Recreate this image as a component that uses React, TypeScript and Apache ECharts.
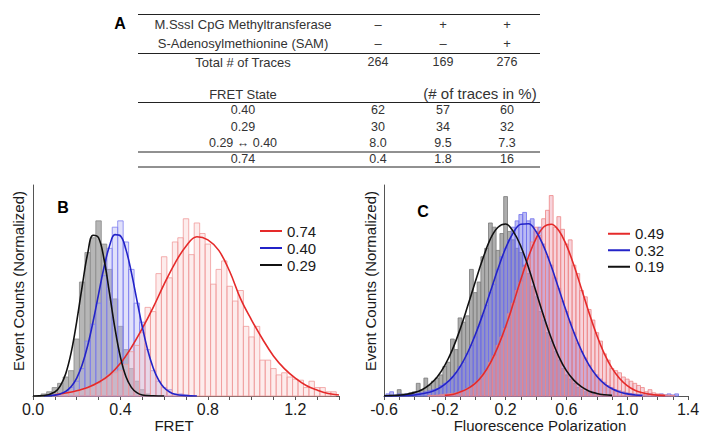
import React, { useEffect, useRef } from 'react';
import * as echarts from 'echarts';

// ---------- Table (panel A) ----------
const treatmentRows = ['M.SssI CpG Methyltransferase', 'S-Adenosylmethionine (SAM)'];
const treatmentMarks = [['–', '+', '+'], ['–', '–', '+']];
const totalTracesLabel = 'Total # of Traces';
const totalTraces = ['264', '169', '276'];
const fretStateHeader = 'FRET State';
const percentHeader = '(# of traces in %)';
const fretStates = ['0.40', '0.29', '0.29 ↔ 0.40', '0.74'];
const fretPercents = [['62', '57', '60'], ['30', '34', '32'], ['8.0', '9.5', '7.3'], ['0.4', '1.8', '16']];

// ---------- Panel B (FRET) ----------
const BIN_W = 0.025;
const histB029Start = 0.05;
const histB029 = [0.01, 0.02, 0.04, 0.06, 0.09, 0.12, 0.27, 0.54, 0.68, 0.75, 0.83, 0.72, 0.6, 0.46, 0.33, 0.22, 0.13, 0.07, 0.03, 0.01];
const histB040Start = 0.1;
const histB040 = [0.005, 0.01, 0.02, 0.04, 0.07, 0.13, 0.26, 0.34, 0.44, 0.57, 0.7, 0.8, 0.83, 0.73, 0.6, 0.44, 0.35, 0.22, 0.12, 0.07, 0.04, 0.03, 0.01, 0.01, 0.005];
const histB074Start = 0.1;
const histB074 = [0.005, 0.01, 0.015, 0.02, 0.025, 0.03, 0.04, 0.05, 0.06, 0.08, 0.1, 0.11, 0.12, 0.15, 0.21, 0.24, 0.3, 0.42, 0.4, 0.58, 0.66, 0.56, 0.73, 0.75, 0.84, 0.67, 0.82, 0.77, 0.72, 0.53, 0.6, 0.64, 0.52, 0.45, 0.5, 0.33, 0.28, 0.33, 0.17, 0.17, 0.13, 0.1, 0.11, 0.09, 0.08, 0.075, 0.04, 0.07, 0.04, 0.04, 0.02, 0.02];

const fitB029 = [[0.0, 0], [0.05, 0.002], [0.1, 0.019], [0.125, 0.048], [0.15, 0.107], [0.175, 0.208], [0.2, 0.353], [0.225, 0.52], [0.25, 0.675], [0.275, 0.762], [0.3, 0.75], [0.325, 0.648], [0.35, 0.487], [0.375, 0.32], [0.4, 0.184], [0.425, 0.092], [0.45, 0.041], [0.475, 0.016], [0.5, 0.005], [0.55, 0.001], [0.6, 0]];
const fitB040 = [[0.05, 0], [0.1, 0.004], [0.125, 0.01], [0.15, 0.022], [0.175, 0.045], [0.2, 0.085], [0.225, 0.148], [0.25, 0.238], [0.275, 0.353], [0.3, 0.483], [0.325, 0.61], [0.35, 0.711], [0.375, 0.765], [0.4, 0.759], [0.425, 0.695], [0.45, 0.586], [0.475, 0.456], [0.5, 0.328], [0.525, 0.217], [0.55, 0.133], [0.575, 0.075], [0.6, 0.039], [0.625, 0.019], [0.65, 0.008], [0.7, 0.002], [0.75, 0]];
const fitB074 = [[0.1, 0.006], [0.15, 0.014], [0.2, 0.025], [0.25, 0.04], [0.3, 0.065], [0.35, 0.1], [0.4, 0.155], [0.45, 0.23], [0.5, 0.32], [0.55, 0.42], [0.6, 0.53], [0.65, 0.63], [0.7, 0.71], [0.75, 0.755], [0.8, 0.74], [0.85, 0.69], [0.9, 0.59], [0.95, 0.46], [1.0, 0.36], [1.05, 0.27], [1.1, 0.19], [1.15, 0.13], [1.2, 0.085], [1.25, 0.05], [1.3, 0.028], [1.35, 0.012], [1.4, 0.005]];

// ---------- Panel C (Fluorescence polarization) ----------
const histC019Start = -0.575;
const histC019 = [0.0, 0.005, 0.0, 0.03, 0.01, 0.01, 0.015, 0.02, 0.06, 0.03, 0.085, 0.05, 0.07, 0.085, 0.1, 0.14, 0.16, 0.27, 0.22, 0.37, 0.35, 0.38, 0.6, 0.49, 0.54, 0.66, 0.7, 0.82, 0.8, 0.69, 0.77, 0.945, 0.78, 0.74, 0.7, 0.68, 0.62, 0.58, 0.52, 0.47, 0.4, 0.36, 0.3, 0.26, 0.21, 0.17, 0.13, 0.1, 0.08, 0.06, 0.04, 0.03, 0.02, 0.015, 0.01, 0.008, 0.005, 0.003, 0.002];
const histC032Start = -0.575;
const histC032 = [0.01, 0.02, 0.005, 0.01, 0.005, 0.01, 0.008, 0.01, 0.012, 0.015, 0.02, 0.025, 0.03, 0.035, 0.05, 0.06, 0.07, 0.09, 0.11, 0.14, 0.16, 0.2, 0.24, 0.28, 0.33, 0.38, 0.43, 0.49, 0.53, 0.6, 0.66, 0.7, 0.74, 0.8, 0.83, 0.86, 0.87, 0.83, 0.84, 0.78, 0.8, 0.72, 0.66, 0.62, 0.56, 0.51, 0.45, 0.4, 0.35, 0.3, 0.25, 0.21, 0.18, 0.145, 0.12, 0.1, 0.08, 0.065, 0.05, 0.04, 0.03, 0.025, 0.02, 0.015, 0.012, 0.01, 0.008, 0.006, 0.005, 0.01, 0.005, 0.004, 0.01, 0.005, 0.01, 0.005, 0.01];
const histC049Start = -0.3;
const histC049 = [0.002, 0.003, 0.004, 0.006, 0.008, 0.01, 0.012, 0.015, 0.02, 0.025, 0.035, 0.045, 0.06, 0.075, 0.1, 0.12, 0.16, 0.19, 0.24, 0.28, 0.32, 0.39, 0.44, 0.5, 0.54, 0.61, 0.65, 0.73, 0.8, 0.76, 0.84, 0.88, 0.95, 0.8, 0.85, 0.79, 0.72, 0.74, 0.62, 0.58, 0.5, 0.47, 0.41, 0.36, 0.3, 0.26, 0.2, 0.17, 0.13, 0.12, 0.11, 0.09, 0.08, 0.07, 0.06, 0.05, 0.04, 0.02, 0.03, 0.015, 0.01, 0.008, 0.005, 0.004, 0.003];

const fitC019 = [[-0.6, 0.001], [-0.55, 0.002], [-0.5, 0.004], [-0.45, 0.008], [-0.4, 0.016], [-0.35, 0.03], [-0.3, 0.054], [-0.25, 0.09], [-0.2, 0.145], [-0.15, 0.22], [-0.1, 0.315], [-0.05, 0.425], [0.0, 0.54], [0.05, 0.65], [0.1, 0.745], [0.15, 0.8], [0.2, 0.815], [0.25, 0.78], [0.3, 0.71], [0.35, 0.61], [0.4, 0.495], [0.45, 0.38], [0.5, 0.275], [0.55, 0.187], [0.6, 0.12], [0.65, 0.074], [0.7, 0.043], [0.75, 0.023], [0.8, 0.012], [0.85, 0.006], [0.9, 0.003]];
const fitC032 = [[-0.6, 0.0], [-0.5, 0.001], [-0.4, 0.005], [-0.3, 0.018], [-0.25, 0.032], [-0.2, 0.055], [-0.15, 0.089], [-0.1, 0.138], [-0.05, 0.205], [0.0, 0.289], [0.05, 0.387], [0.1, 0.495], [0.15, 0.603], [0.2, 0.7], [0.25, 0.773], [0.3, 0.814], [0.35, 0.816], [0.4, 0.78], [0.45, 0.71], [0.5, 0.616], [0.55, 0.508], [0.6, 0.4], [0.65, 0.3], [0.7, 0.214], [0.75, 0.145], [0.8, 0.094], [0.85, 0.058], [0.9, 0.034], [0.95, 0.019], [1.0, 0.01], [1.05, 0.005], [1.1, 0.0025]];
const fitC049 = [[-0.2, 0.003], [-0.15, 0.007], [-0.1, 0.019], [-0.05, 0.035], [0.0, 0.06], [0.05, 0.1], [0.1, 0.157], [0.15, 0.234], [0.2, 0.328], [0.25, 0.437], [0.3, 0.552], [0.35, 0.659], [0.4, 0.746], [0.45, 0.801], [0.5, 0.814], [0.55, 0.784], [0.6, 0.715], [0.65, 0.618], [0.7, 0.506], [0.75, 0.392], [0.8, 0.288], [0.85, 0.2], [0.9, 0.132], [0.95, 0.083], [1.0, 0.049], [1.05, 0.027], [1.1, 0.015], [1.15, 0.008], [1.2, 0.004], [1.25, 0.002]];

const legendB = ['0.74', '0.40', '0.29'];
const legendC = ['0.49', '0.32', '0.19'];

const FONT = '"Liberation Sans", Arial, Helvetica, sans-serif';
const RED = '#e52a2a';
const BLUE = '#2323c8';
const BLACK = '#111111';

function toBins(start: number, values: number[]) {
  return values.map((v, i) => [start + i * BIN_W, v]);
}

function histSeries(name: string, start: number, values: number[], idx: number, fill: string, stroke: string, z: number) {
  return {
    type: 'custom',
    name,
    xAxisIndex: idx,
    yAxisIndex: idx,
    silent: true,
    z,
    encode: { x: 0, y: 1 },
    data: toBins(start, values),
    renderItem: (params: any, api: any) => {
      const x = api.value(0);
      const y = api.value(1);
      const p0 = api.coord([x - BIN_W / 2, y]);
      const p1 = api.coord([x + BIN_W / 2, 0]);
      return {
        type: 'rect',
        shape: { x: p0[0], y: p0[1], width: p1[0] - p0[0], height: p1[1] - p0[1] },
        style: { fill, stroke, lineWidth: 0.8 },
      };
    },
  };
}

function fitSeries(name: string, data: number[][], idx: number, color: string) {
  return {
    type: 'line',
    name,
    xAxisIndex: idx,
    yAxisIndex: idx,
    data,
    smooth: 0.4,
    symbol: 'none',
    color,
    z: 10,
    silent: true,
    lineStyle: { color, width: 1.6 },
  };
}

const axisLineStyle = { color: '#555', width: 1 };

function xAxisCfg(idx: number, min: number, max: number, labelFn: (k: number) => boolean) {
  return {
    type: 'value',
    gridIndex: idx,
    min,
    max,
    interval: 0.1,
    axisLine: { show: true, onZero: false, lineStyle: axisLineStyle },
    axisTick: { show: true, length: 4, lineStyle: axisLineStyle },
    splitLine: { show: false },
    axisLabel: {
      fontFamily: FONT,
      fontSize: 16,
      color: '#1a1a1a',
      margin: 5,
      formatter: (v: number) => {
        const k = Math.round(v * 10);
        return labelFn(k) ? (k / 10).toFixed(1) : '';
      },
    },
  };
}

function yAxisCfg(idx: number) {
  return {
    type: 'value',
    gridIndex: idx,
    min: 0,
    max: 1,
    axisLine: { show: true, onZero: false, lineStyle: axisLineStyle },
    axisTick: { show: false },
    axisLabel: { show: false },
    splitLine: { show: false },
  };
}

function txt(text: string, x: number, y: number, size: number, opts: any = {}) {
  return {
    type: 'text',
    x,
    y,
    rotation: opts.rotation || 0,
    silent: true,
    style: {
      text,
      fill: opts.fill || '#222',
      font: `${opts.bold ? 'bold ' : ''}${size}px ${FONT}`,
      align: opts.align || 'center',
      verticalAlign: 'middle',
    },
  };
}

function hline(y: number, x1: number, x2: number) {
  return { type: 'line', silent: true, shape: { x1, y1: y, x2, y2: y }, style: { stroke: '#222', lineWidth: 1 } };
}

function buildTable() {
  const els: any[] = [];
  const colX = [378, 443, 507];
  const labelX = 243;
  const L = 138, R = 540;
  els.push(txt('A', 120, 23, 16, { bold: true, fill: '#000' }));
  els.push(hline(14.5, L, R));
  const rowY1 = [24, 43];
  treatmentRows.forEach((t, i) => {
    els.push(txt(t, labelX, rowY1[i], 13, { fill: '#333' }));
    treatmentMarks[i].forEach((m, j) => els.push(txt(m, colX[j], rowY1[i], 13, { fill: '#333' })));
  });
  els.push(hline(53.5, L, R));
  els.push(txt(totalTracesLabel, labelX, 62, 13, { fill: '#333' }));
  totalTraces.forEach((v, j) => els.push(txt(v, colX[j], 62, 12.5, { fill: '#333' })));
  els.push(txt(fretStateHeader, labelX, 94, 13, { fill: '#333' }));
  els.push(txt(percentHeader, 480, 93, 15, { fill: '#333' }));
  els.push(hline(102.5, L, R));
  const rowY2 = [110, 127, 143, 159];
  fretStates.forEach((s, i) => {
    els.push(txt(s, labelX, rowY2[i], 12.5, { fill: '#333' }));
    fretPercents[i].forEach((v, j) => els.push(txt(v, colX[j], rowY2[i], 12.5, { fill: '#333' })));
  });
  els.push(hline(152, L, R));
  els.push(hline(167, L, R));
  return els;
}

const option: any = {
  animation: false,
  backgroundColor: '#ffffff',
  grid: [
    { left: 33, top: 185, width: 306, height: 211 },
    { left: 384, top: 185, width: 304, height: 211 },
  ],
  xAxis: [
    xAxisCfg(0, 0, 1.4, (k) => k % 4 === 0 && k <= 12),
    xAxisCfg(1, -0.6, 1.4, (k) => (k + 6) % 4 === 0),
  ],
  yAxis: [yAxisCfg(0), yAxisCfg(1)],
  legend: [
    {
      data: legendB,
      orient: 'vertical',
      left: 255,
      top: 217.5,
      itemWidth: 22,
      itemHeight: 2,
      itemGap: 0,
      icon: 'rect',
      selectedMode: false,
      textStyle: { fontFamily: FONT, fontSize: 15, lineHeight: 17, color: '#1a1a1a' },
    },
    {
      data: legendC,
      orient: 'vertical',
      left: 603,
      top: 220.5,
      itemWidth: 22,
      itemHeight: 2,
      itemGap: 0,
      icon: 'rect',
      selectedMode: false,
      textStyle: { fontFamily: FONT, fontSize: 15, lineHeight: 16.5, color: '#1a1a1a' },
    },
  ],
  series: [
    histSeries('hB029', histB029Start, histB029, 0, '#b6b6b6', '#8a8a8a', 2),
    histSeries('hB040', histB040Start, histB040, 0, 'rgba(170,170,240,0.35)', '#7f7ff0', 3),
    histSeries('hB074', histB074Start, histB074, 0, 'rgba(248,195,195,0.32)', '#f09a9a', 4),
    fitSeries('0.74', fitB074, 0, RED),
    fitSeries('0.40', fitB040, 0, BLUE),
    fitSeries('0.29', fitB029, 0, BLACK),
    histSeries('hC019', histC019Start, histC019, 1, '#adadad', '#7a7a7a', 2),
    histSeries('hC032', histC032Start, histC032, 1, 'rgba(120,120,232,0.5)', '#7070ee', 3),
    histSeries('hC049', histC049Start, histC049, 1, 'rgba(235,145,165,0.4)', '#ee8585', 4),
    fitSeries('0.49', fitC049, 1, RED),
    fitSeries('0.32', fitC032, 1, BLUE),
    fitSeries('0.19', fitC019, 1, BLACK),
  ],
  graphic: [
    ...buildTable(),
    txt('B', 63, 207.5, 16, { bold: true, fill: '#000' }),
    txt('C', 423, 211, 16, { bold: true, fill: '#000' }),
    txt('Event Counts (Normalized)', 18, 281, 15, { rotation: Math.PI / 2, fill: '#1a1a1a' }),
    txt('Event Counts (Normalized)', 370, 281, 15, { rotation: Math.PI / 2, fill: '#1a1a1a' }),
    txt('FRET', 174, 425, 15, { fill: '#1a1a1a' }),
    txt('Fluorescence Polarization', 540, 425, 15, { fill: '#1a1a1a' }),
  ],
};

export default function App() {
  const ref = useRef<HTMLDivElement>(null);
  useEffect(() => {
    const chart = echarts.init(ref.current as HTMLDivElement, null, { renderer: 'svg' });
    chart.setOption(option);
    return () => chart.dispose();
  }, []);
  return (
    <div
      ref={ref}
      style={{ position: 'fixed', left: 0, top: 0, width: 713, height: 444, background: '#fff' }}
    />
  );
}
